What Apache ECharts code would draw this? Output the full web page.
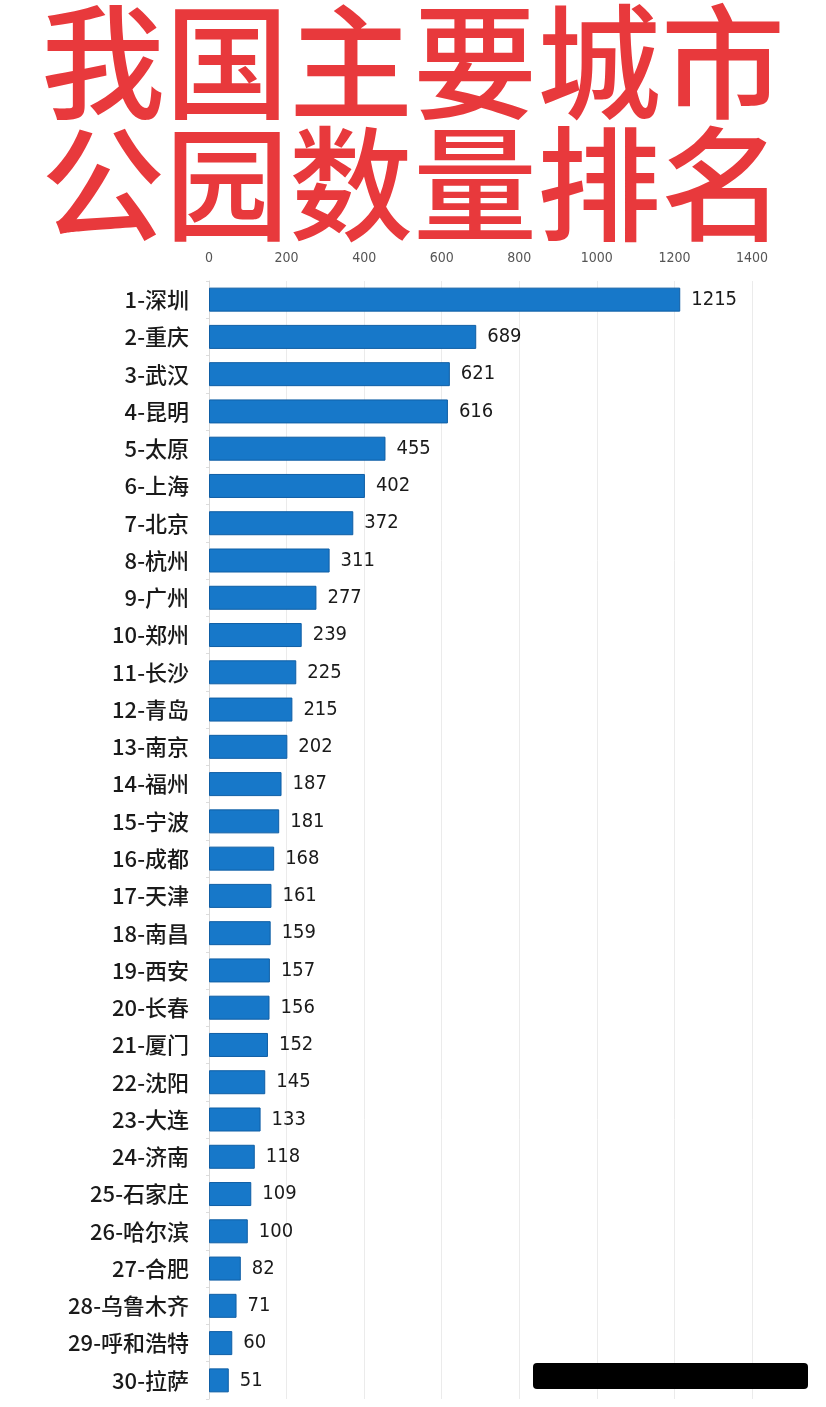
<!DOCTYPE html>
<html><head><meta charset="utf-8">
<script src="https://cdn.jsdelivr.net/npm/echarts@6/dist/echarts.min.js"></script>
<style>html,body{margin:0;padding:0;background:#fff}#c{width:826px;height:1407px}</style>
</head><body><div id="c"></div>
<script>
const titleLines = ['我国主要城市', '公园数量排名'];
const cities = ['深圳','重庆','武汉','昆明','太原','上海','北京','杭州','广州','郑州','长沙','青岛','南京','福州','宁波','成都','天津','南昌','西安','长春','厦门','沈阳','大连','济南','石家庄','哈尔滨','合肥','乌鲁木齐','呼和浩特','拉萨'];
const parks = [1215,689,621,616,455,402,372,311,277,239,225,215,202,187,181,168,161,159,157,156,152,145,133,118,109,100,82,71,60,51];
const xTicks = [0,200,400,600,800,1000,1200,1400];

const categories = cities.map((c,i)=> (i+1)+'-'+c);
const chart = echarts.init(document.getElementById('c'), null, {renderer:'canvas'});
const numFont = '"DejaVu Sans Condensed","Roboto","Noto Sans",sans-serif';
chart.setOption({
  backgroundColor:'#fff',
  animation:false,
  graphic:[
    {type:'text', left:'center', top:0, z:100, style:{text:titleLines[0], font:'500 124px "Noto Sans CJK SC"', fill:'#e8393c'}},
    {type:'text', left:'center', top:122, z:100, style:{text:titleLines[1], font:'500 124px "Noto Sans CJK SC"', fill:'#e8393c'}},
    {type:'rect', right:18, bottom:18, z:100, shape:{width:275,height:26,r:4}, style:{fill:'#000'}}
  ],
  grid:{left:209, right:74, top:281, height:1118, containLabel:false},
  xAxis:{type:'value', position:'top', min:xTicks[0], max:xTicks[xTicks.length-1], interval:200,
    axisLine:{show:false}, axisTick:{show:false},
    axisLabel:{color:'#555', fontSize:14, fontFamily:numFont, margin:16, formatter:v=>String(v)},
    splitLine:{show:true, lineStyle:{color:'#ebebeb', width:1}}},
  yAxis:{type:'category', data:categories, inverse:true,
    axisLine:{show:true, lineStyle:{color:'#d8d8d8'}},
    axisTick:{show:true, length:3, lineStyle:{color:'#ddd'}},
    axisLabel:{color:'#1a1a1a', fontSize:22, fontWeight:500, fontFamily:'"Noto Sans CJK SC"', margin:20}},
  series:[{type:'bar', data:parks, barWidth:24,
    itemStyle:{color:'#1778c9', borderColor:'#0f5ea5', borderWidth:1},
    label:{show:true, position:'right', distance:11, color:'#1a1a1a', fontSize:20, fontFamily:numFont}}]
});
</script></body></html>
